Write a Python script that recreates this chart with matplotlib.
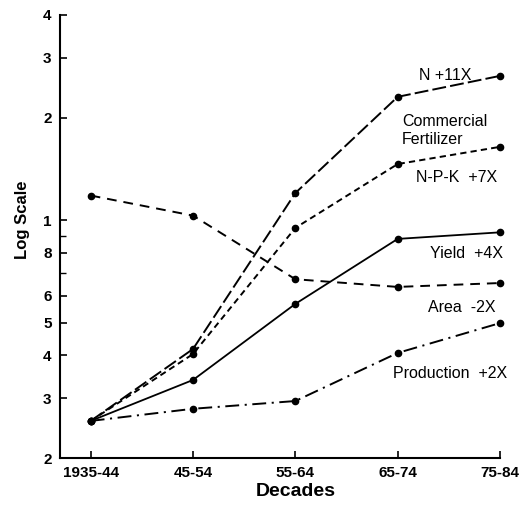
import matplotlib
matplotlib.use("Agg")
import matplotlib.pyplot as plt
from matplotlib.ticker import FixedLocator, FixedFormatter

plt.rcParams['lines.scale_dashes'] = False

decades = ["1935-44", "45-54", "55-64", "65-74", "75-84"]
n_fert = [0.257, 0.418, 1.20, 2.30, 2.65]
npk_fert = [0.257, 0.404, 0.948, 1.46, 1.64]
yield_vals = [0.257, 0.339, 0.567, 0.88, 0.92]
area_vals = [1.18, 1.03, 0.67, 0.636, 0.653]
production = [0.257, 0.279, 0.294, 0.407, 0.498]

ytick_vals = [0.2, 0.3, 0.4, 0.5, 0.6, 0.8, 1, 2, 3, 4]
ytick_labels = ["2", "3", "4", "5", "6", "8", "1", "2", "3", "4"]
yminor_vals = [0.7, 0.9]

W, H = 521, 507
fig = plt.figure(figsize=(W / 100, H / 100), dpi=100)
ax = fig.add_axes([60 / W, 1 - 458 / H, 440 / W, 443 / H])

x = list(range(len(decades)))
common = dict(color="black", marker="o", markersize=4.5, clip_on=False)
ax.plot(x, n_fert, lw=1.4, linestyle=(0, (10, 3)), **common)
ax.plot(x, npk_fert, lw=1.4, linestyle=(0, (4.5, 3)), **common)
ax.plot(x, yield_vals, lw=1.3, linestyle="-", **common)
ax.plot(x, area_vals, lw=1.4, linestyle=(0, (7, 5)), **common)
ax.plot(x, production, lw=1.4, linestyle=(0, (10, 4, 1.5, 4)), **common)

ax.set_yscale("log")
ax.set_ylim(0.2, 4)
ax.set_xlim(-0.30, 4.0)
ax.yaxis.set_major_locator(FixedLocator(ytick_vals))
ax.yaxis.set_major_formatter(FixedFormatter(ytick_labels))
ax.yaxis.set_minor_locator(FixedLocator(yminor_vals))
ax.set_xticks(x)
ax.set_xticklabels(decades)

for s in ["top", "right"]:
    ax.spines[s].set_visible(False)
for s in ["left", "bottom"]:
    ax.spines[s].set_linewidth(1.5)

font = ["Liberation Sans", "DejaVu Sans"]
ax.tick_params(axis="both", which="major", direction="in", length=5, width=1.2,
               labelsize=11, pad=6)
ax.tick_params(axis="y", which="minor", direction="in", length=4, width=1.0)
for lab in ax.get_xticklabels() + ax.get_yticklabels():
    lab.set_family(font)
    lab.set_fontweight("bold")

fig.text(23 / W, 1 - 220 / H, "Log Scale", rotation=90, ha="center", va="center",
         fontsize=12, fontweight="bold", family=font)
fig.text(296 / W, 1 - 492 / H, "Decades", ha="center", va="center",
         fontsize=14, fontweight="bold", family=font)

ann = dict(ha="center", va="center", fontsize=11.5, family=font)
fig.text(445 / W, 1 - 75 / H, "N +11X", **ann)
fig.text(445 / W, 1 - 122 / H, "Commercial", **ann)
fig.text(402 / W, 1 - 139 / H, "Fertilizer", ha="left", va="center", fontsize=11.5,
         family=font)
fig.text(457 / W, 1 - 177 / H, "N-P-K  +7X", **ann)
fig.text(466 / W, 1 - 253 / H, "Yield  +4X", **ann)
fig.text(462 / W, 1 - 307 / H, "Area  -2X", **ann)
fig.text(450 / W, 1 - 374 / H, "Production  +2X", **ann)

fig.savefig("out.png", dpi=100)
